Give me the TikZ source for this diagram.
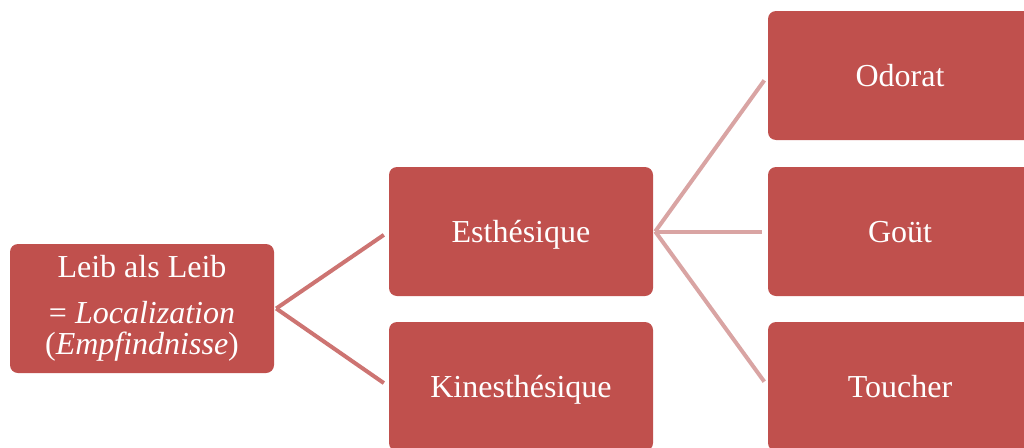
\documentclass[tikz,border=0pt]{standalone}
\usepackage{fontspec}
\setmainfont{Liberation Serif}
\definecolor{boxred}{HTML}{C0504D}
\definecolor{linkA}{HTML}{CD7472}
\definecolor{linkB}{HTML}{D9A4A3}
\tikzset{
  box/.style={fill=boxred, draw=none, rounded corners=8pt, minimum width=264pt,
    minimum height=129pt, text=white, align=center, inner sep=0pt,
    font=\fontsize{32}{31}\selectfont},
  onebox/.style={box, text height=21pt, text depth=0pt},
  linkone/.style={draw=linkA, line width=4pt, shorten >=6pt},
  linktwo/.style={draw=linkB, line width=4pt, shorten >=6pt}
}
\begin{document}
\begin{tikzpicture}[x=1pt,y=-1pt]
\useasboundingbox (0,0) rectangle (1024,447);
\node[box] (leib) at (142,308.5) {\raisebox{0pt}[22pt][0pt]{Leib als Leib}\\[15pt]= \textit{Localization}\\(\textit{Empfindnisse})};
\node[onebox] (esth) at (521,231.5) {Esthésique};
\node[onebox] (kine) at (521,386.5) {Kinesthésique};
\node[onebox] (odor) at (900,75.5) {Odorat};
\node[onebox] (gout) at (900,231.5) {Goüt};
\node[onebox] (touc) at (900,386.5) {Toucher};
\draw[linkone] ([xshift=2pt]leib.east) -- (esth.west);
\draw[linkone] ([xshift=2pt]leib.east) -- (kine.west);
\draw[linktwo] ([xshift=2pt]esth.east) -- (odor.west);
\draw[linktwo] ([xshift=2pt]esth.east) -- (gout.west);
\draw[linktwo] ([xshift=2pt]esth.east) -- (touc.west);
\end{tikzpicture}
\end{document}
